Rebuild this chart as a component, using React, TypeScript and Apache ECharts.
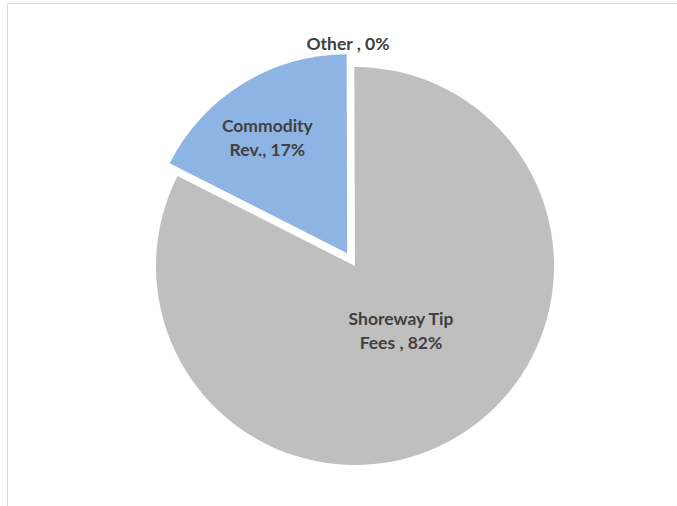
import React, { useEffect, useRef } from "react";
import * as echarts from "echarts";

// Category names (line breaks as in the reference labels)
const categories: string[] = ["Shoreway Tip\nFees ", "Commodity\nRev.", "Other "];
// Share of revenue (%)
const values: number[] = [82.47, 17.49, 0.04];
const colors: string[] = ["#BFBFBF", "#8EB4E3", "#A5A5A5"];
// Which slice is pulled out of the pie
const exploded: boolean[] = [false, true, false];
// Label centres (px) as placed in the reference
const LABEL_POS: [number, number][] = [
  [401, 330],
  [269, 139],
  [348, 43],
];
// Shift of the pulled-out slice's label from its default inside spot
const EXPLODED_LABEL_OFFSET: [number, number] = [-26, -28];

export default function App() {
  const ref = useRef<HTMLDivElement>(null);

  useEffect(() => {
    if (!ref.current) return;
    const chart = echarts.init(ref.current, undefined, { renderer: "svg" });
    const total = values.reduce((a, b) => a + b, 0);

    chart.setOption({
      animation: false,
      backgroundColor: "#ffffff",
      graphic: [
        {
          type: "rect",
          silent: true,
          shape: { x: 7.5, y: 3.5, width: 720, height: 620 },
          style: { fill: "none", stroke: "#D9D9D9", lineWidth: 1 },
        },
      ],
      series: [
        {
          type: "pie",
          center: [355, 266],
          radius: [0, 199],
          startAngle: 90,
          clockwise: true,
          avoidLabelOverlap: false,
          selectedMode: "single",
          selectedOffset: 15,
          emphasis: { disabled: true },
          itemStyle: { borderWidth: 0 },
          labelLine: { show: false },
          label: {
            show: true,
            position: "inside",
            color: "#404040",
            fontFamily: "Lato",
            fontWeight: "bold",
            fontSize: 17.5,
            lineHeight: 24,
            align: "center",
            formatter: (p: any) =>
              `${p.name}, ${Math.round((values[p.dataIndex] / total) * 100)}%`,
          },
          labelLayout: (p: any) =>
            exploded[p.dataIndex]
              ? {}
              : {
                  x: LABEL_POS[p.dataIndex][0],
                  y: LABEL_POS[p.dataIndex][1],
                  align: "center",
                  verticalAlign: "middle",
                },
          data: categories.map((name, i) => ({
            name,
            value: values[i],
            selected: exploded[i],
            itemStyle: { color: colors[i] },
            ...(exploded[i]
              ? {
                  label: { offset: EXPLODED_LABEL_OFFSET },
                  select: {
                    itemStyle: { color: colors[i], borderWidth: 0 },
                    label: { offset: EXPLODED_LABEL_OFFSET },
                  },
                }
              : {}),
          })),
        },
      ],
    });

    return () => chart.dispose();
  }, []);

  return (
    <div
      ref={ref}
      style={{ position: "absolute", left: 0, top: 0, width: 677, height: 506 }}
    />
  );
}
